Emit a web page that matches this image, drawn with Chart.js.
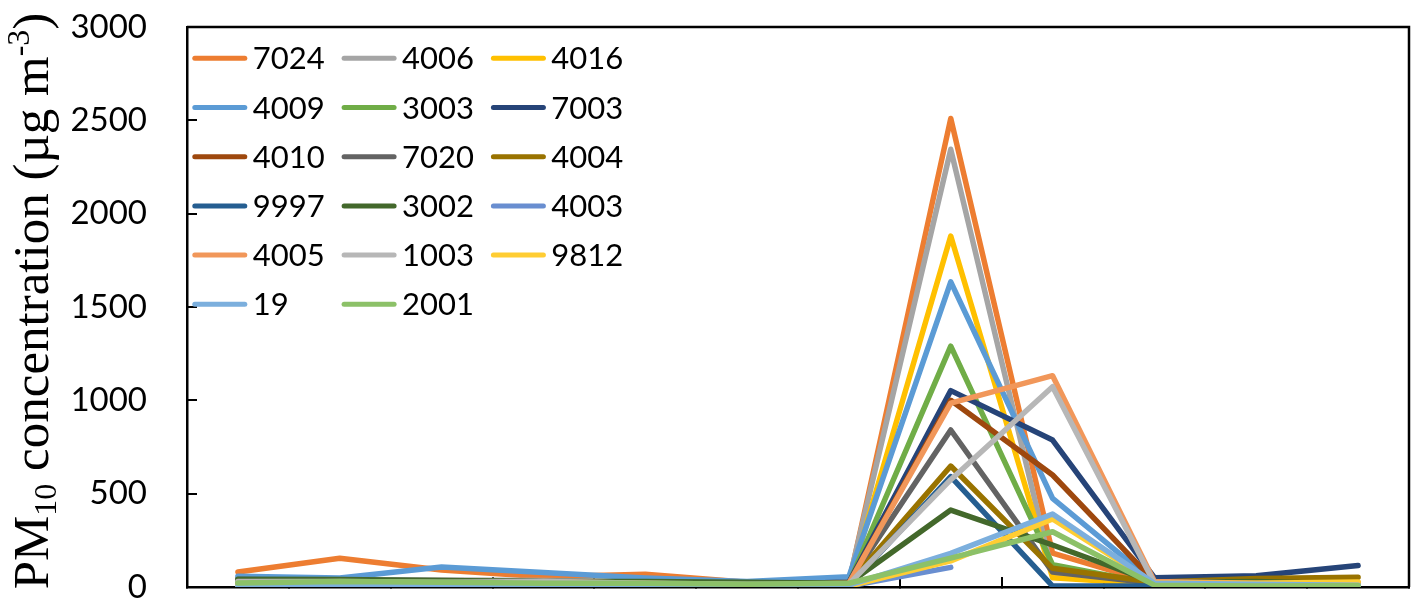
<!DOCTYPE html>
<html>
<head>
<meta charset="utf-8">
<script src="https://cdn.jsdelivr.net/npm/chart.js@4.4.1/dist/chart.umd.min.js"></script>
<style>
  html, body { margin: 0; padding: 0; background: #fff; }
  #wrap { width: 1413px; height: 599px; }
</style>
</head>
<body>
<div id="wrap"><canvas id="pmChart" width="1413" height="599"></canvas></div>
<script>
// x categories (labels are cut off in the source picture)
const categories = ['1', '2', '3', '4', '5', '6', '7', '8', '9', '10', '11', '12'];
const yTicks = [0, 500, 1000, 1500, 2000, 2500, 3000];

// station names, in legend order
const stations = ['7024', '4006', '4016', '4009', '3003', '7003', '4010', '7020', '4004',
                  '9997', '3002', '4003', '4005', '1003', '9812', '19', '2001'];
const stationColors = ['#ED7D31', '#A5A5A5', '#FFC000', '#5B9BD5', '#70AD47', '#264478',
                       '#9E480E', '#636363', '#997300', '#255E91', '#43682B', '#698ED0',
                       '#F1975A', '#B7B7B7', '#FFCD33', '#7CAFDD', '#8CC168'];

// PM10 values, one array per station
const s7024 = [80, 154, 91, 55, 68, 25, 20, 2510, 182, 20, 15, 10];
const s4006 = [48, 40, 38, 35, 30, 25, 30, 2345, 70, 15, 10, 10];
const s4016 = [10, 10, 10, 5, 5, 10, 15, 1880, 50, 15, 15, 25];
const s4009 = [58, 48, 107, 78, 48, 30, 55, 1635, 475, 25, 20, 15];
const s3003 = [30, 30, 25, 20, 20, 15, 20, 1290, 120, 15, 10, 10];
const s7003 = [20, 15, 15, 20, 20, 15, 25, 1052, 787, 50, 60, 115];
const s4010 = [15, 10, 10, 15, 15, 10, 20, 1000, 600, 30, 25, 20];
const s7020 = [40, 35, 30, 25, 20, 15, 25, 841, 80, 20, 15, 15];
const s4004 = [20, 15, 15, 15, 15, 10, 20, 648, 100, 25, 45, 52];
const s9997 = [10, 5, 5, 10, 10, 5, 5, 591, 5, 5, 5, 5];
const s3002 = [42, 40, 35, 30, 30, 25, 20, 412, 225, 25, 30, 15];
const s4003 = [10, 5, 5, 5, 5, 5, 5, 105, null, null, null, null];
const s4005 = [15, 10, 10, 30, 20, 10, 20, 985, 1132, 30, 20, 20];
const s1003 = [30, 30, 25, 30, 20, 15, 15, 575, 1073, 20, 15, 10];
const s9812 = [5, 5, 5, 5, 5, 5, 5, 140, 365, 20, 20, 27];
const s19 = [5, 10, 10, 5, 5, 10, 10, 180, 391, 20, 15, 10];
const s2001 = [22, 30, 25, 20, 20, 15, 20, 155, 296, 10, 5, 7];

const seriesValues = [s7024, s4006, s4016, s4009, s3003, s7003, s4010, s7020, s4004,
                      s9997, s3002, s4003, s4005, s1003, s9812, s19, s2001];

// legend drawn as a 3-column grid inside the plot area, like the excel original
const gridLegend = {
  id: 'gridLegend',
  afterDraw(chart) {
    const ctx = chart.ctx;
    const { left, top } = chart.chartArea;
    ctx.save();
    ctx.font = '31px Lato';
    ctx.fillStyle = '#000';
    ctx.textBaseline = 'alphabetic';
    ctx.lineCap = 'round';
    ctx.lineWidth = 5;
    chart.data.datasets.forEach((ds, i) => {
      const x = left + 5.3 + (i % 3) * 149.3;
      const y = top + 31.3 + Math.floor(i / 3) * 49.2;
      ctx.strokeStyle = ds.borderColor;
      ctx.beginPath();
      ctx.moveTo(x + 2.5, y);
      ctx.lineTo(x + 52.5, y);
      ctx.stroke();
      ctx.fillText(ds.label, x + 60.4, y + 11);
    });
    ctx.restore();
  }
};

// top + right edges of the plot area
const plotFrame = {
  id: 'plotFrame',
  afterDraw(chart) {
    const { left, top, right, bottom } = chart.chartArea;
    const ctx = chart.ctx;
    ctx.save();
    ctx.strokeStyle = '#000';
    ctx.lineWidth = 2.5;
    ctx.beginPath();
    ctx.moveTo(left, top);
    ctx.lineTo(right, top);
    ctx.lineTo(right, bottom);
    ctx.stroke();
    ctx.restore();
  }
};

// y title needs a subscript and a superscript, so it is drawn by hand
const yTitle = {
  id: 'yTitle',
  afterDraw(chart) {
    const ctx = chart.ctx;
    const parts = [
      { t: 'PM', size: 51, dy: 0 },
      { t: '10', size: 32, dy: 8 },
      { t: ' concentration (\u00b5g m', size: 51, dy: 0 },
      { t: '-3', size: 32, dy: -19 },
      { t: ')', size: 51, dy: 0 }
    ];
    ctx.save();
    ctx.fillStyle = '#000';
    ctx.textBaseline = 'alphabetic';
    let total = 0;
    parts.forEach(p => {
      ctx.font = p.size + 'px "Liberation Serif"';
      p.w = ctx.measureText(p.t).width;
      total += p.w;
    });
    ctx.translate(48, 301);
    ctx.rotate(-Math.PI / 2);
    let x = -total / 2;
    parts.forEach(p => {
      ctx.font = p.size + 'px "Liberation Serif"';
      ctx.fillText(p.t, x, p.dy);
      x += p.w;
    });
    ctx.restore();
  }
};

const datasets = stations.map((name, i) => ({
  label: name,
  data: seriesValues[i],
  borderColor: stationColors[i],
  backgroundColor: stationColors[i],
  borderWidth: 5.5,
  borderCapStyle: 'round',
  borderJoinStyle: 'round',
  pointRadius: 0,
  tension: 0,
  fill: false,
  spanGaps: false,
  order: -i
}));

// no extra padding from the axes, the plot box is placed by layout.padding only
function noScalePadding(scale) {
  scale.paddingTop = 0;
  scale.paddingBottom = 0;
  scale.paddingLeft = 0;
  scale.paddingRight = 0;
}

new Chart(document.getElementById('pmChart'), {
  type: 'line',
  data: { labels: categories, datasets: datasets },
  options: {
    responsive: false,
    animation: false,
    layout: { autoPadding: false, padding: { left: 0, right: 4, top: 27, bottom: 12 } },
    plugins: {
      legend: { display: false },
      tooltip: { enabled: false }
    },
    scales: {
      x: {
        type: 'category',
        offset: true,
        grid: { offset: true, drawOnChartArea: false, tickLength: -10, color: '#000', lineWidth: 2 },
        border: { color: '#000', width: 2.5 },
        ticks: { display: false },
        afterFit: (scale) => { scale.height = 0; noScalePadding(scale); }
      },
      y: {
        min: 0,
        max: 3000,
        afterBuildTicks: (scale) => { scale.ticks = yTicks.map(v => ({ value: v })); },
        grid: { drawOnChartArea: false, tickLength: -10, color: '#000', lineWidth: 2 },
        border: { color: '#000', width: 2.5 },
        ticks: {
          color: '#000',
          font: { family: 'Lato', size: 33 },
          padding: 50,
          callback: (v) => String(v)
        },
        afterFit: (scale) => { scale.width = 187; noScalePadding(scale); }
      }
    }
  },
  plugins: [gridLegend, plotFrame, yTitle]
});
</script>
</body>
</html>
